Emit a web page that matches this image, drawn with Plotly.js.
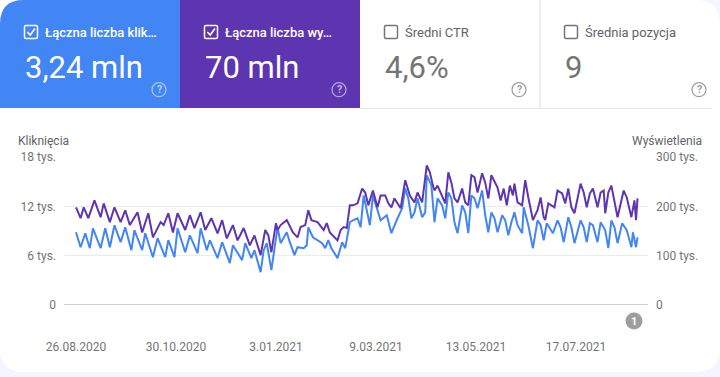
<!DOCTYPE html>
<html><head><meta charset="utf-8">
<script src="https://cdn.plot.ly/plotly-3.0.1.min.js"></script>
<style>html,body{margin:0;padding:0;background:#fff;}#chart{width:720px;height:377px;}</style>
</head><body><div id="chart"></div>
<script>
// ---- data (days since 26.08.2020, values in thousands "tys.") ----
const clickDays = [0,3,6,9,11,16,19,22,25,29,32,36,38,43,45,50,53,58,60,64,66,71,74,79,81,85,87,92,95,100,102,108,110,114,116,120,122,124,127,131,133,135,137,139,142,144,148,150,151,154,157,160,162,164,166,170,173,175,178,180,183,185,187,189,191,193,196,198,202,205,209,212,214,216,218,220,222,225,227,228,231,232,233,235,238,240,242,244,246,248,251,253,255,257,259,261,264,266,268,270,272,274,277,279,281,283,285,287,290,291,294,297,300,302,304,306,308,310,313,315,317,320,322,324,328,330,332,334,336,339,341,344,346,348,350,352,355,358,361,362,364,365];
const clicks = [8.85,7.03,8.73,6.91,9.33,6.91,9.33,7.03,9.70,7.64,9.45,6.67,9.09,6.67,8.73,5.82,8.12,5.82,7.88,5.82,9.33,6.42,8.48,6.30,9.33,6.67,7.88,5.70,7.64,5.09,7.27,5.45,7.52,5.70,6.67,4.00,6.67,7.52,4.24,9.45,7.52,8.24,8.85,7.64,6.06,7.03,6.91,7.27,9.45,8.24,7.88,7.52,6.91,7.88,6.91,5.70,7.64,6.91,10.06,10.30,10.55,9.45,13.33,11.52,9.70,13.33,11.52,10.30,10.91,8.73,10.55,11.76,14.18,12.97,10.55,11.27,12.97,10.67,11.27,15.76,14.55,12.12,10.06,12.97,12.12,10.55,13.70,12.97,10.06,8.73,12.12,11.27,8.73,13.33,12.97,11.76,13.94,10.91,8.85,11.27,10.55,8.85,10.91,10.30,8.48,10.06,11.27,9.70,8.73,11.88,9.70,6.91,10.30,9.70,7.88,9.94,9.33,8.73,10.30,9.45,7.64,10.67,9.45,7.52,10.30,9.45,7.64,9.94,9.70,7.64,10.06,9.09,6.91,10.30,9.45,7.52,9.94,9.09,7.03,8.85,7.03,8.24];
const imprDays = [0,3,5,8,12,16,18,22,25,29,32,35,40,43,47,50,55,57,60,63,66,71,74,77,81,84,88,92,95,98,102,105,109,113,116,120,123,125,127,130,131,133,137,141,144,146,149,151,153,157,161,163,165,170,172,174,176,178,180,183,186,188,190,193,196,198,201,203,205,207,211,214,217,220,222,225,228,230,232,233,235,238,240,242,244,246,248,251,253,255,257,259,261,264,266,268,270,274,276,278,280,282,284,285,287,290,292,294,297,300,302,304,305,307,309,311,313,316,318,320,322,324,328,330,332,334,336,339,341,343,344,346,348,350,352,356,358,361,363,364,365];
const impressions = [198,176,198,176,212,178,206,168,198,168,192,162,188,147,186,137,168,162,186,147,186,152,182,156,188,152,176,145,172,135,162,131,156,121,141,101,152,141,107,166,152,162,172,147,137,158,162,192,172,168,152,166,147,131,152,158,156,202,202,206,236,228,202,232,198,222,222,206,198,216,196,253,222,208,228,208,283,269,242,232,242,218,206,269,248,216,208,236,208,202,263,259,228,267,248,216,263,238,212,236,202,242,222,246,208,202,253,218,172,192,218,178,172,206,202,198,232,226,206,236,198,186,246,228,198,226,236,198,228,232,186,228,242,212,178,232,218,178,212,172,216];

const xTickDays = [0,65,130,195,260,325];
const xTickLabels = ['26.08.2020','30.10.2020','3.01.2021','9.03.2021','13.05.2021','17.07.2021'];
const clickTicks = [0,6,12,18];
const clickTickLabels = ['0','6 tys.','12 tys.','18 tys.'];
const imprTicks = [0,100,200,300];
const imprTickLabels = ['0','100 tys.','200 tys.','300 tys.'];
const metricLabels = ['Łączna liczba klik…','Łączna liczba wy…','Średni CTR','Średnia pozycja'];
const metricValues = ['3,24 mln','70 mln','4,6%','9'];

// ---- layout helpers (pixel -> paper) ----
const W = 720, H = 377, ML = 64, MR = 72, MT = 157, MB = 72;
const PW = W - ML - MR, PH = H - MT - MB;
const X = px => (px - ML) / PW;
const Y = py => (H - MB - py) / PH;
function rr(x0, y0, x1, y1, tl, tr, br, bl) {
  const p = (a, b) => X(a).toFixed(5) + ',' + Y(b).toFixed(5);
  let s = 'M' + p(x0 + tl, y0) + ' L' + p(x1 - tr, y0);
  if (tr) s += ' Q' + p(x1, y0) + ' ' + p(x1, y0 + tr);
  s += ' L' + p(x1, y1 - br);
  if (br) s += ' Q' + p(x1, y1) + ' ' + p(x1 - br, y1);
  s += ' L' + p(x0 + bl, y1);
  if (bl) s += ' Q' + p(x0, y1) + ' ' + p(x0, y1 - bl);
  s += ' L' + p(x0, y0 + tl);
  if (tl) s += ' Q' + p(x0, y0) + ' ' + p(x0 + tl, y0);
  return s + ' Z';
}
const FONT = 'Roboto, Arial, sans-serif';
const shapes = [], annotations = [];
// white patch behind top-left corner, then card
shapes.push({type: 'rect', xref: 'paper', yref: 'paper', x0: X(0), x1: X(40), y0: Y(0), y1: Y(40), fillcolor: '#ffffff', line: {width: 0}, layer: 'below'});
shapes.push({type: 'path', xref: 'paper', yref: 'paper', path: rr(0, 0, 720, 372, 24, 24, 24, 24), fillcolor: '#ffffff', line: {width: 0}, layer: 'below'});
// tiles
shapes.push({type: 'path', xref: 'paper', yref: 'paper', path: rr(0, 0, 180, 108, 24, 0, 0, 0), fillcolor: '#4285f4', line: {width: 0}, layer: 'below'});
shapes.push({type: 'rect', xref: 'paper', yref: 'paper', x0: X(180), x1: X(360), y0: Y(0), y1: Y(108), fillcolor: '#5e35b1', line: {width: 0}, layer: 'below'});
shapes.push({type: 'line', xref: 'paper', yref: 'paper', x0: X(540), x1: X(540), y0: Y(0), y1: Y(108), line: {color: '#e0e0e0', width: 1}});
shapes.push({type: 'line', xref: 'paper', yref: 'paper', x0: X(360), x1: X(712), y0: Y(108.5), y1: Y(108.5), line: {color: '#e6e6e6', width: 1}});
for (let i = 0; i < 4; i++) {
  const ox = 180 * i;
  const active = i < 2;
  const c = active ? '#ffffff' : '#757575';
  shapes.push({type: 'path', xref: 'paper', yref: 'paper', path: rr(ox + 24.5, 25.5, ox + 37.5, 38.5, 1.5, 1.5, 1.5, 1.5), fillcolor: 'rgba(0,0,0,0)', line: {color: c, width: 1.5}});
  if (active) {
    shapes.push({type: 'path', xref: 'paper', yref: 'paper', path: 'M' + X(ox + 27.3) + ',' + Y(32) + ' L' + X(ox + 30.2) + ',' + Y(35) + ' L' + X(ox + 35) + ',' + Y(28.6), line: {color: '#ffffff', width: 1.6}});
  }
  shapes.push({type: 'circle', xref: 'paper', yref: 'paper', x0: X(ox + 152), x1: X(ox + 166), y0: Y(82.7), y1: Y(96.7), line: {color: active ? 'rgba(255,255,255,0.55)' : '#9e9e9e', width: 1.2}});
  annotations.push({xref: 'paper', yref: 'paper', x: X(ox + 159), y: Y(89.9), text: '?', showarrow: false, xanchor: 'center', yanchor: 'middle', font: {family: FONT, size: 10.5, color: active ? 'rgba(255,255,255,0.65)' : '#9e9e9e', weight: 700}});
  annotations.push({xref: 'paper', yref: 'paper', x: X(ox + 43), y: Y(32), text: metricLabels[i], showarrow: false, xanchor: 'left', yanchor: 'middle', font: {family: FONT, size: 13, color: active ? '#ffffff' : '#5f6368', weight: active ? 500 : 400}});
  annotations.push({xref: 'paper', yref: 'paper', x: X(ox + 23), y: Y(67), text: metricValues[i], showarrow: false, xanchor: 'left', yanchor: 'middle', font: {family: FONT, size: 31, color: active ? '#ffffff' : '#757575'}});
}
// zero line
shapes.push({type: 'line', xref: 'paper', yref: 'y', x0: 0, x1: 1, y0: 0, y1: 0, line: {color: '#9e9e9e', width: 1}});
// badge
shapes.push({type: 'circle', xref: 'paper', yref: 'paper', x0: X(625.5), x1: X(642.5), y0: Y(312.5), y1: Y(329.5), fillcolor: '#9e9e9e', line: {width: 0}});
annotations.push({xref: 'paper', yref: 'paper', x: X(634), y: Y(321), text: '1', showarrow: false, xanchor: 'center', yanchor: 'middle', font: {family: FONT, size: 11, color: '#ffffff', weight: 700}});
// axis titles
annotations.push({xref: 'paper', yref: 'paper', x: X(16), y: Y(141), text: 'Kliknięcia', showarrow: false, xanchor: 'left', yanchor: 'middle', font: {family: FONT, size: 12, color: '#5f6368'}});
annotations.push({xref: 'paper', yref: 'paper', x: X(704), y: Y(141), text: 'Wyświetlenia', showarrow: false, xanchor: 'right', yanchor: 'middle', font: {family: FONT, size: 12, color: '#5f6368'}});

const traces = [
  {x: imprDays, y: impressions, yaxis: 'y2', type: 'scatter', mode: 'lines', name: 'Wyświetlenia', line: {color: '#5e35b1', width: 2}, hoverinfo: 'skip'},
  {x: clickDays, y: clicks, yaxis: 'y', type: 'scatter', mode: 'lines', name: 'Kliknięcia', line: {color: '#4285f4', width: 2}, hoverinfo: 'skip'}
];
const tickFont = {family: FONT, size: 12, color: '#757575'};
const layout = {
  width: W, height: H, margin: {l: ML, r: MR, t: MT, b: MB, pad: 0},
  paper_bgcolor: '#f3f6fc', plot_bgcolor: 'rgba(0,0,0,0)', showlegend: false,
  font: {family: FONT},
  xaxis: {range: [-7.8, 371.8], tickmode: 'array', tickvals: xTickDays, ticktext: xTickLabels, showgrid: false, zeroline: false, showline: false, ticks: '', ticklabelstandoff: 33, tickfont: tickFont, fixedrange: true},
  yaxis: {range: [0, 18], tickmode: 'array', tickvals: clickTicks, ticktext: clickTickLabels, showgrid: true, gridcolor: '#ebebeb', gridwidth: 1, zeroline: false, showline: false, ticks: '', ticklabelstandoff: 7, tickfont: tickFont, fixedrange: true},
  yaxis2: {range: [0, 300], overlaying: 'y', side: 'right', tickmode: 'array', tickvals: imprTicks, ticktext: imprTickLabels, showgrid: false, zeroline: false, showline: false, ticks: '', ticklabelstandoff: 7, tickfont: tickFont, fixedrange: true},
  shapes: shapes, annotations: annotations
};
Plotly.newPlot('chart', traces, layout, {displayModeBar: false, staticPlot: true});
</script></body></html>
